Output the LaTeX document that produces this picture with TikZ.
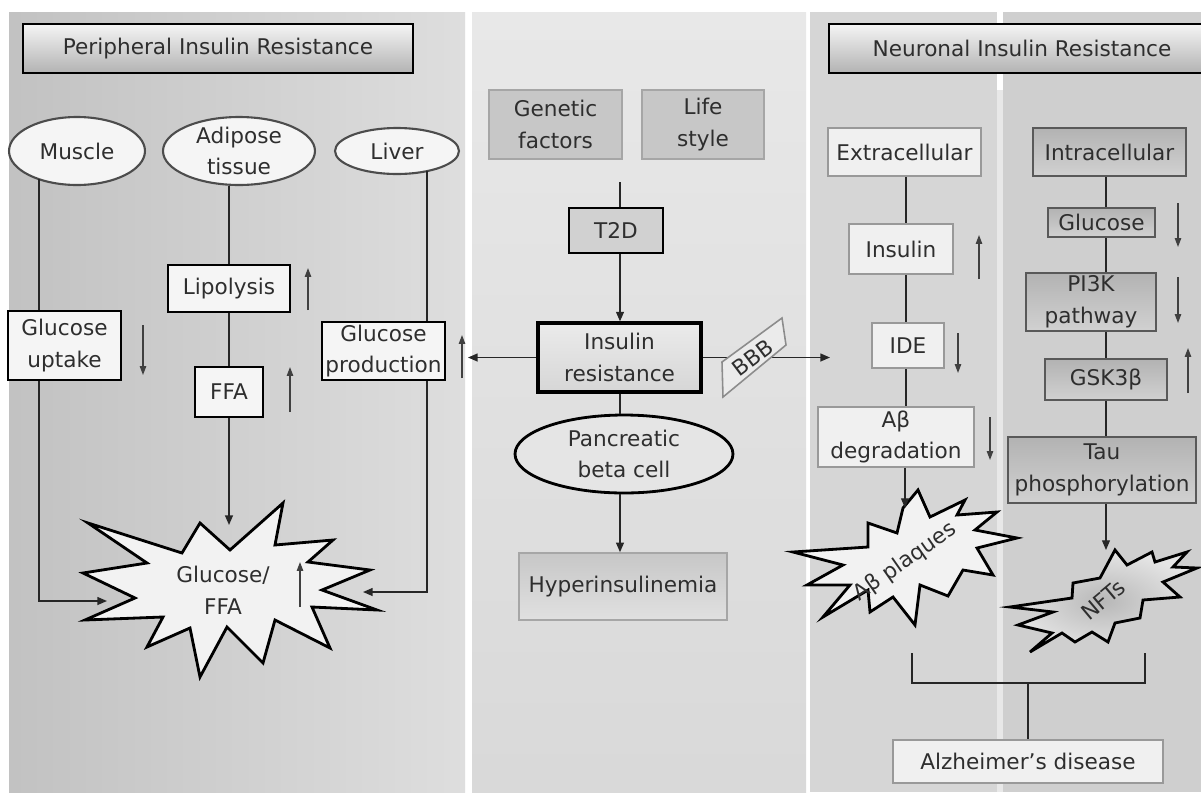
\documentclass[tikz,border=0pt]{standalone}
\usepackage{fontspec}
\setmainfont{DejaVu Sans}
\usetikzlibrary{arrows.meta,shapes.geometric}
\begin{document}
\begin{tikzpicture}[x=0.02cm,y=-0.02cm,
  every node/.style={text=black!82, font=\fontsize{12.3}{18}\selectfont, align=center, inner sep=0pt},
  span/.code n args={4}{%
    \pgfmathsetmacro\spcx{(#1+#3)/2}\pgfmathsetmacro\spcy{(#2+#4)/2}%
    \pgfmathsetmacro\spw{abs(#3-#1)*0.02}\pgfmathsetmacro\sph{abs(#4-#2)*0.02}%
    \tikzset{at={(\spcx,\spcy)}, minimum width=\spw cm, minimum height=\sph cm}},
  titlebox/.style={rectangle, draw=black, line width=1.5pt, top color=black!4, bottom color=black!30},
  thickbox/.style={rectangle, draw=black, line width=1.6pt, fill=black!4},
  graybox/.style={rectangle, draw=black!35, line width=0.8pt, fill=black!22},
  lightbox/.style={rectangle, draw=black!40, line width=1pt, fill=black!6},
  darkbox/.style={rectangle, draw=black!65, line width=1.3pt, top color=black!30, bottom color=black!18},
  organ/.style={ellipse, draw=black!70, line width=1.2pt, fill=black!4, inner sep=-4pt},
  burst/.style={draw=black, line width=1.6pt, fill=black!5, line join=miter},
  conn/.style={line width=0.9pt, draw=black!85},
  arr/.style={conn, -{Triangle[length=5.5pt,width=4.5pt]}},
  ind/.style={line width=0.7pt, draw=black!75, -{Triangle[length=5pt,width=3.6pt]}}
]
\useasboundingbox (0,0) rectangle (1201,792);
\clip (0,0) rectangle (1201,792);
% backgrounds
\fill[white] (0,0) rectangle (1201,792);
\shade[left color=black!24, right color=black!13] (9,12) rectangle (465,792);
\shade[top color=black!9, bottom color=black!15] (472,12) rectangle (806,792);
\fill[black!16] (810,12) rectangle (997,792);
\fill[black!19] (1003,12) rectangle (1201,792);
\fill[black!9] (997,90) rectangle (1003,792);

% ---------------- left panel ----------------
\node[titlebox, span={23}{24}{413}{73}] (ptitle) {Peripheral Insulin Resistance};
\node[organ, minimum width=2.72cm, minimum height=1.36cm] (muscle) at (77,151) {Muscle};
\node[organ, minimum width=3.04cm, minimum height=1.36cm] (adipose) at (239,151) {Adipose\\tissue};
\node[organ, minimum width=2.48cm, minimum height=0.92cm] (liver) at (397,151) {Liver};
\node[thickbox, span={8}{311}{121}{380}] (uptake) {Glucose\\uptake};
\node[thickbox, span={168}{265}{290}{312}] (lipo) {Lipolysis};
\node[thickbox, span={195}{367}{263}{417}] (ffa) {FFA};
\node[thickbox, span={322}{322}{445}{380}] (gprod) {Glucose\\production};

\draw[burst] (88,523) -- (182,553) -- (200,523) -- (230,550) -- (283,503) -- (275,545) -- (333,540) -- (308,562) -- (370,570) -- (322,590) -- (377,610) -- (312,607) -- (330,648) -- (275,620) -- (263,663) -- (227,627) -- (200,677) -- (190,628) -- (147,647) -- (163,617) -- (85,620) -- (135,598) -- (83,573) -- (147,563) -- cycle;
\node (gf) at (223,590) {Glucose/\\FFA};
\coordinate (gfTop) at (229,525);
\coordinate (gfL) at (107,601);
\coordinate (gfR) at (363,592);

\coordinate (mA) at (39,179);
\coordinate (mB) at (39,601);
\draw[conn] (mA) -- (uptake.north -| mA);
\draw[arr] (uptake.south -| mA) -- (mB) -- (gfL);
\draw[conn] (adipose.south -| lipo.north) -- (lipo.north);
\draw[conn] (lipo.south) -- (ffa.north);
\draw[arr] (ffa.south) -- (gfTop);
\coordinate (lA) at (427,171);
\coordinate (lB) at (427,592);
\draw[conn] (lA) -- (gprod.north -| lA);
\draw[arr] (gprod.south -| lA) -- (lB) -- (gfR);

\draw[ind] (143,325) -- (143,375);
\draw[ind] (308,310) -- (308,268);
\draw[ind] (290,412) -- (290,367);
\draw[ind] (462,378) -- (462,335);
\draw[ind] (300,607) -- (300,562);

% ---------------- center panel ----------------
\node[graybox, span={489}{90}{622}{159}] (gen) {Genetic\\factors};
\node[graybox, span={642}{90}{764}{159}] (life) {Life\\style};
\node[rectangle, draw=black, line width=1.6pt, fill=black!18, span={569}{208}{663}{253}] (t2d) {T2D};
\node[rectangle, draw=black, line width=1.8pt, top color=black!8, bottom color=black!16, span={538}{323}{701}{392}] (ir) {Insulin\\resistance};
\node[ellipse, draw=black, line width=1.6pt, fill=black!10, inner sep=-4pt, minimum width=4.36cm, minimum height=1.56cm] (panc) at (624,454) {Pancreatic\\beta cell};
\node[rectangle, draw=black!35, line width=0.9pt, top color=black!22, bottom color=black!12, span={519}{553}{727}{620}] (hyp) {Hyperinsulinemia};

\coordinate (cx) at (620,0);
\coordinate (gtop) at (620,182);
\draw[conn] (gtop) -- (t2d.north -| cx);
\draw[arr] (t2d.south -| cx) -- (ir.north -| cx);
\draw[conn] (ir.south -| cx) -- (panc.north -| cx);
\draw[arr] (panc.south -| cx) -- (hyp.north -| cx);
\coordinate (irL) at (468,0);
\draw[arr] (ir.west) -- (ir.west -| irL);
\coordinate (irR) at (830,0);
\draw[arr] (ir.east) -- (ir.east -| irR);
\draw[draw=black!45, line width=0.9pt, fill=black!8] (722,362) -- (782,318) -- (786,345) -- (723,397) -- cycle;
\node[rotate=37] (bbb) at (753,358) {BBB};

% ---------------- right panel ----------------
\node[titlebox, span={829}{24}{1215}{73}] (ntitle) {Neuronal Insulin Resistance};
\node[lightbox, span={828}{128}{981}{176}] (exc) {Extracellular};
\node[lightbox, span={849}{224}{953}{274}] (ins) {Insulin};
\node[lightbox, span={872}{323}{944}{368}] (ide) {IDE};
\node[lightbox, span={818}{407}{974}{467}] (abd) {Aβ\\degradation};
\node[darkbox, span={1033}{128}{1186}{176}] (intra) {Intracellular};
\node[darkbox, span={1048}{208}{1155}{237}] (glu) {Glucose};
\node[darkbox, span={1026}{273}{1156}{331}] (pik) {PI3K\\pathway};
\node[darkbox, span={1045}{359}{1167}{400}] (gsk) {GSK3β};
\node[darkbox, span={1008}{437}{1196}{503}] (tau) {Tau\\phosphorylation};
\node[lightbox, span={893}{740}{1163}{783}] (alz) {Alzheimer’s disease};

\draw[burst] (918,490) -- (930,517) -- (965,500) -- (957,515) -- (997,512) -- (975,530) -- (1017,538) -- (977,548) -- (993,575) -- (963,570) -- (948,596) -- (920,585) -- (915,625) -- (893,597) -- (870,612) -- (868,590) -- (823,617) -- (850,585) -- (807,585) -- (843,565) -- (793,552) -- (868,547) -- (868,523) -- (897,533) -- (903,508) -- cycle;
\node[rotate=35] (plq) at (905,562) {Aβ plaques};
\coordinate (plqTop) at (905,508);

\shadedraw[burst, inner color=black!28, outer color=black!10] (1115,550) -- (1127,565) -- (1152,552) -- (1155,562) -- (1187,552) -- (1173,567) -- (1197,568) -- (1163,582) -- (1180,597) -- (1143,600) -- (1140,618) -- (1115,623) -- (1108,642) -- (1092,632) -- (1075,642) -- (1062,633) -- (1030,652) -- (1052,633) -- (1018,625) -- (1053,612) -- (1010,607) -- (1072,598) -- (1073,583) -- (1100,578) -- cycle;
\node[rotate=40] (nft) at (1103,600) {NFTs};
\coordinate (nftTop) at (1106,550);

\coordinate (ex) at (906,0);
\draw[conn] (exc.south -| ex) -- (ins.north -| ex);
\draw[conn] (ins.south -| ex) -- (ide.north -| ex);
\draw[conn] (ide.south -| ex) -- (abd.north -| ex);
\draw[arr, line width=0.7pt] (abd.south -| plqTop) -- (plqTop);

\coordinate (inx) at (1106,0);
\draw[conn] (intra.south -| inx) -- (glu.north -| inx);
\draw[conn] (glu.south -| inx) -- (pik.north -| inx);
\draw[conn] (pik.south -| inx) -- (gsk.north -| inx);
\draw[conn] (gsk.south -| inx) -- (tau.north -| inx);
\draw[arr, line width=0.7pt] (tau.south -| nftTop) -- (nftTop);

\coordinate (bA) at (912,653);
\coordinate (bB) at (912,683);
\coordinate (bC) at (1145,683);
\coordinate (bD) at (1145,653);
\draw[conn] (bA) -- (bB) -- (bC) -- (bD);
\draw[conn] (alz.north |- bB) -- (alz.north);

\draw[ind] (979,279) -- (979,235);
\draw[ind] (958,333) -- (958,373);
\draw[ind] (990,417) -- (990,460);
\draw[ind] (1178,203) -- (1178,247);
\draw[ind] (1178,277) -- (1178,323);
\draw[ind] (1188,393) -- (1188,348);
\end{tikzpicture}
\end{document}
